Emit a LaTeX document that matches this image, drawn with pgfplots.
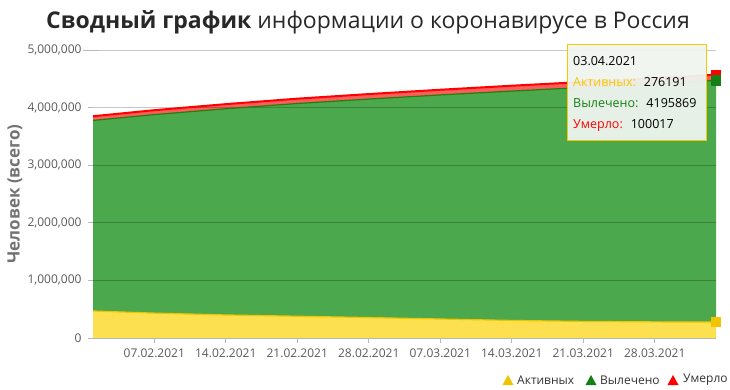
\documentclass[border=0pt]{standalone}
\usepackage{fontspec}
\setmainfont{Open Sans}
\usepackage{pgfplots}
\usepackage{pgfplotstable}
\pgfplotsset{compat=1.18}
\definecolor{ylw}{RGB}{252,224,80}
\definecolor{ylwline}{RGB}{240,196,0}
\definecolor{grn}{RGB}{76,168,76}
\definecolor{grnline}{RGB}{34,128,10}
\definecolor{redfill}{RGB}{255,92,92}
\definecolor{redline}{RGB}{255,0,0}
\definecolor{tickgray}{RGB}{90,90,90}
\definecolor{titlegray}{RGB}{40,40,40}
\definecolor{tipbg}{RGB}{239,244,239}
\definecolor{tipborder}{RGB}{245,200,0}
\definecolor{tipgreen}{RGB}{20,128,20}

\pgfplotstableread{
d active recovered deaths
0  469000 3308000 73000
6  432000 3446500 76500
13 400000 3580000 80000
20 378000 3693500 83500
27 355000 3793000 87000
34 330000 3890000 90000
41 305000 3982000 93000
48 288000 4061500 95500
55 280000 4132000 98000
61 276191 4195869 100017
}\data

\begin{document}
\begin{tikzpicture}[x=1pt,y=1pt]
\useasboundingbox (0,0) rectangle (730,389);
\begin{axis}[at={(93pt,51pt)}, anchor=south west, scale only axis,
  width=623pt, height=288pt,
  xmin=0, xmax=61, ymin=0, ymax=5000000,
  stack plots=y,
  axis on top,
  axis x line*=bottom, axis y line*=left,
  y axis line style={draw=none},
  x axis line style={draw=black!28, line width=1pt},
  xtick={6,13,20,27,34,41,48,55},
  xticklabels={07.02.2021,14.02.2021,21.02.2021,28.02.2021,07.03.2021,14.03.2021,21.03.2021,28.03.2021},
  ytick={0,1000000,2000000,3000000,4000000,5000000},
  yticklabels={0,{1,000,000},{2,000,000},{3,000,000},{4,000,000},{5,000,000}},
  scaled y ticks=false,
  ymajorgrids,
  major grid style={black, opacity=0.22, line width=0.8pt},
  tick align=outside,
  major tick length=5pt,
  xtick style={draw=black!28, line width=0.8pt},
  ytick style={draw=black!28, line width=0.8pt, shorten <=-5pt, shorten >=-5pt},
  ticklabel style={font=\fontsize{12}{14}\selectfont, text=tickgray},
  yticklabel style={xshift=-3pt},
  xticklabel style={yshift=-2pt},
]
\addplot[fill=ylw, draw=none] table[x=d,y=active] {\data} \closedcycle;
\addplot[fill=grn, draw=none] table[x=d,y=recovered] {\data} \closedcycle;
\addplot[fill=redfill, draw=none] table[x=d,y=deaths] {\data} \closedcycle;
\end{axis}
\begin{axis}[at={(93pt,51pt)}, anchor=south west, scale only axis,
  width=623pt, height=288pt,
  xmin=0, xmax=61, ymin=0, ymax=5000000,
  stack plots=y, axis lines=none, clip=false]
\addplot[draw=ylwline, line width=1.2pt, mark=square*, mark indices={10}, mark size=4.5pt,
  mark options={fill=ylwline, draw=ylwline}] table[x=d,y=active] {\data};
\addplot[draw=grnline, line width=1.2pt, mark=square*, mark indices={10}, mark size=4.5pt,
  mark options={fill=tipgreen, draw=tipgreen}] table[x=d,y=recovered] {\data};
\addplot[draw=redline, line width=2pt, mark=square*, mark indices={10}, mark size=4.5pt,
  mark options={fill=redline, draw=redline, line width=0.5pt}] table[x=d,y=deaths] {\data};
\end{axis}
% title
\node[text=titlegray, font=\fontsize{23}{27}\selectfont] at (368,367)
  {\textbf{Сводный график} информации о коронавирусе в Россия};
% y label
\node[rotate=90, text=black!55, font=\fontsize{17}{20}\selectfont\bfseries] at (15,195) {Человек (всего)};
% tooltip
\draw[draw=tipborder, fill=tipbg, fill opacity=0.95, line width=1pt] (567,249) rectangle (706,344);
\begin{scope}[font=\fontsize{12.5}{15}\selectfont]
\node[anchor=base west, inner sep=0pt] at (573,323) {03.04.2021};
\node[anchor=base west, inner sep=0pt] at (573,302) {\textcolor{tipborder}{Активных:}\hspace{8pt}276191};
\node[anchor=base west, inner sep=0pt] at (573,282) {\textcolor{tipgreen}{Вылечено:}\hspace{8pt}4195869};
\node[anchor=base west, inner sep=0pt] at (573,261) {\textcolor{redline}{Умерло:}\hspace{8pt}100017};
\end{scope}
% legend
\begin{scope}[font=\fontsize{12}{14}\selectfont]
\fill[ylwline] (502.5,4) -- (513.5,4) -- (508,14) -- cycle;
\node[anchor=west, inner sep=0pt, text=black!80] at (517,9) {Активных};
\fill[tipgreen] (585.5,4) -- (596.5,4) -- (591,14) -- cycle;
\node[anchor=west, inner sep=0pt, text=black!80] at (600,9) {Вылечено};
\fill[redline] (667.5,4) -- (678.5,4) -- (673,14) -- cycle;
\node[anchor=west, inner sep=0pt, text=black!80] at (683,9) {Умерло};
\end{scope}
\end{tikzpicture}
\end{document}
